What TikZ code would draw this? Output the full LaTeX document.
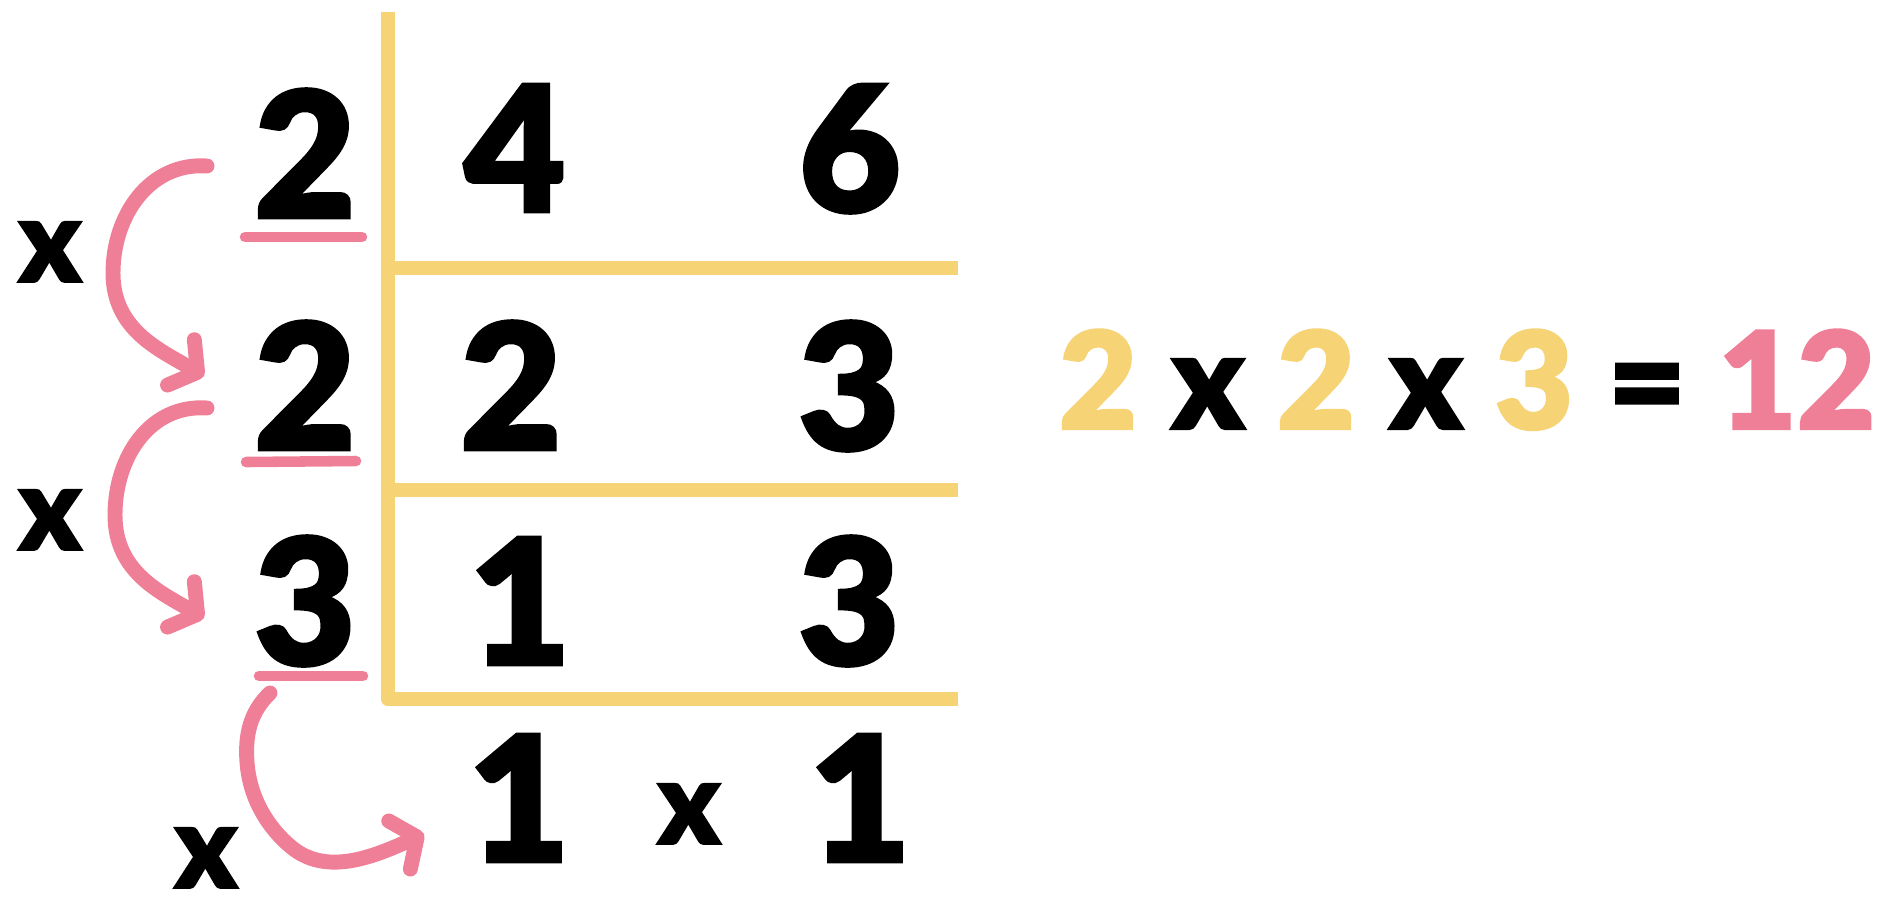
\documentclass[tikz,border=0pt]{standalone}
\usepackage{fontspec}
\usepackage{tikz}
\usetikzlibrary{arrows.meta, positioning, calc}
\newfontfamily\heavyfont{Lato Black}[FakeBold=1.6]
\definecolor{gridyellow}{HTML}{F6D374}
\definecolor{arcpink}{HTML}{EF7F97}
\tikzstyle{digit} = [inner sep=0pt, anchor=base, font=\heavyfont\fontsize{100}{100}\selectfont]
\tikzstyle{times} = [inner sep=0pt, anchor=base, font=\heavyfont\fontsize{66}{66}\selectfont]
\tikzstyle{eqn} = [inner sep=0pt, anchor=base, font=\heavyfont\fontsize{77}{77}\selectfont]
\tikzstyle{gridline} = [draw=gridyellow, line width=8.3pt, line join=round]
\tikzstyle{uline} = [draw=arcpink, line width=6pt, line cap=round]
\tikzstyle{carry} = [draw=arcpink, line width=8.5pt, line cap=round, -{Straight Barb[length=11pt, width=30pt, round]}]

\begin{document}
\begin{tikzpicture}[x=0.02cm, y=-0.02cm]
  \useasboundingbox (0,0) rectangle (1896,904);

  % division frame
  \draw[gridline] (388,12) -- (388,699) -- (958,699);
  \draw[gridline] (384,268) -- (958,268);
  \draw[gridline] (384,490) -- (958,490);

  % divisors
  \node[digit] (d1) at (305,218) {2};
  \node[digit] (d2) at (305,450) {2};
  \node[digit] (d3) at (305,665) {3};
  \draw[uline] (245,237) -- (362,237);
  \draw[uline] (246,462) -- (356,461);
  \draw[uline] (259,676) -- (363,676);

  % quotients
  \node[digit] (q1a) at (515,212) {4};
  \node[digit] (q1b) at (850,212) {6};
  \node[digit] (q2a) at (511,450) {2};
  \node[digit] (q2b) at (849,450) {3};
  \node[digit] (q3a) at (520,665) {1};
  \node[digit] (q3b) at (849,665) {3};
  \node[digit] (q4a) at (519,862) {1};
  \node[digit] (q4b) at (860,862) {1};

  \node[times] (t1) at (50,282) {x};
  \node[times] (t2) at (50,550) {x};
  \node[times] (t3) at (206,888) {x};
  \node[times] (t4) at (689,844) {x};

  % pink carries
  \coordinate (c1s) at (207,166);
  \coordinate (c1e) at (204,376);
  \coordinate (c2s) at (207,408);
  \coordinate (c2e) at (204,618);
  \coordinate (c3s) at (270,693);
  \coordinate (c3e) at (424,834);
  \draw[carry] (c1s) .. controls (150,162) and (113,215) .. (113,273) .. controls (113,330) and (160,350) .. (c1e);
  \draw[carry] (c2s) .. controls (150,404) and (115,457) .. (115,515) .. controls (115,572) and (160,592) .. (c2e);
  \draw[carry] (c3s) .. controls (250,712) and (245,735) .. (247,762) .. controls (250,805) and (275,835) .. (295,850) .. controls (330,875) and (375,856) .. (c3e);

  % result
  \node[eqn, text=gridyellow] (e1) at (1098,429) {2};
  \node[eqn] (e2) at (1208,429) {x};
  \node[eqn, text=gridyellow] (e3) at (1316,429) {2};
  \node[eqn] (e4) at (1426,429) {x};
  \node[eqn, text=gridyellow] (e5) at (1534,429) {3};
  \node[eqn] (e6) at (1647,429) {=};
  \node[eqn, text=arcpink] (e7) at (1797,429) {12};
\end{tikzpicture}
\end{document}
